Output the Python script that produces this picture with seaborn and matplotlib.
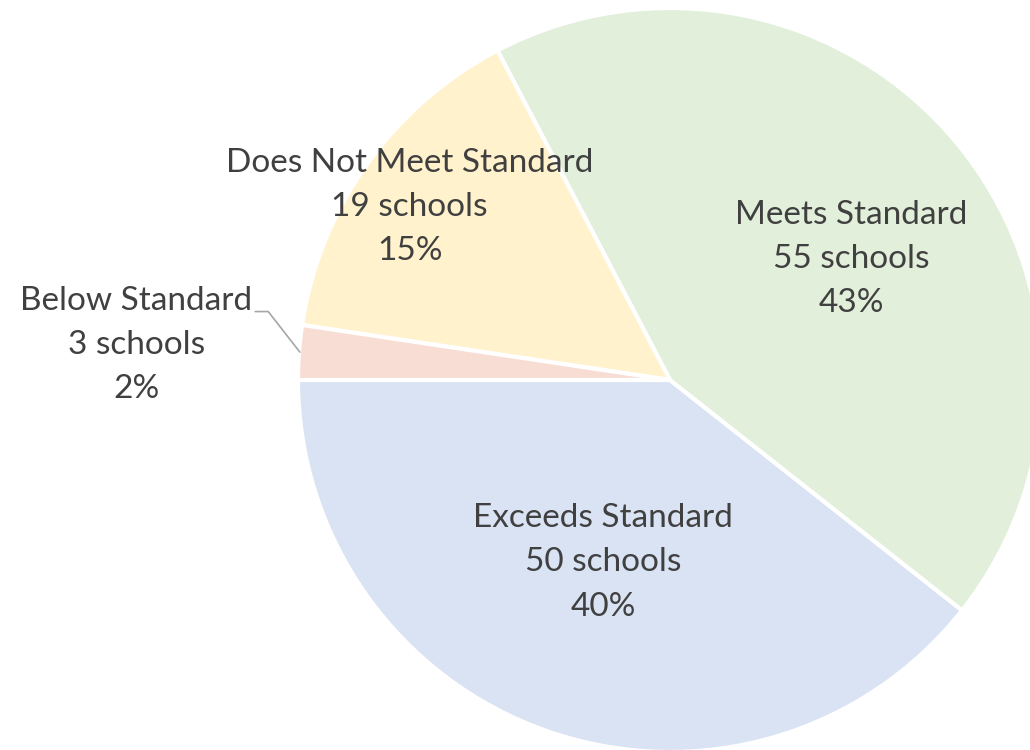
import numpy as np
import seaborn as sns
import matplotlib.pyplot as plt

categories = ["Exceeds Standard", "Meets Standard", "Does Not Meet Standard", "Below Standard"]
schools = [50, 55, 19, 3]
percents = ["40%", "43%", "15%", "2%"]
colors = ["#DAE3F3", "#E2EFDA", "#FFF2CC", "#F8DDD5"]

# label centres, in units of pie radius
label_pos = [(-0.18, -0.49), (0.488, 0.325), (-0.70, 0.465), (-1.435, 0.094)]

sns.set_theme(style="white")
plt.rcParams['font.family'] = ['Lato', 'DejaVu Sans']

fig = plt.figure(figsize=(10.3, 7.5), dpi=100)
ax = fig.add_axes([0, 0, 1, 1])
ax.pie(schools, colors=colors, startangle=180, counterclock=True,
       radius=1.0, center=(0, 0),
       wedgeprops=dict(edgecolor="white", linewidth=3))

# pixel geometry: centre at (670, 380), radius 372 px
ax.set_xlim(-670 / 372, (1030 - 670) / 372)
ax.set_ylim(-(750 - 380) / 372, 380 / 372)
ax.set_aspect("auto")
ax.axis("off")

for cat, n, pct, (x, y) in zip(categories, schools, percents, label_pos):
    ax.text(x, y, f"{cat}\n{n} schools\n{pct}", ha="center", va="center",
            fontsize=24, color="#404040", linespacing=1.6)

# leader line for the small slice
ax.plot([-1.115, -1.08, -0.995], [0.184, 0.184, 0.075], color="#A6A6A6", lw=1.2)

fig.savefig("out.png", dpi=100)
